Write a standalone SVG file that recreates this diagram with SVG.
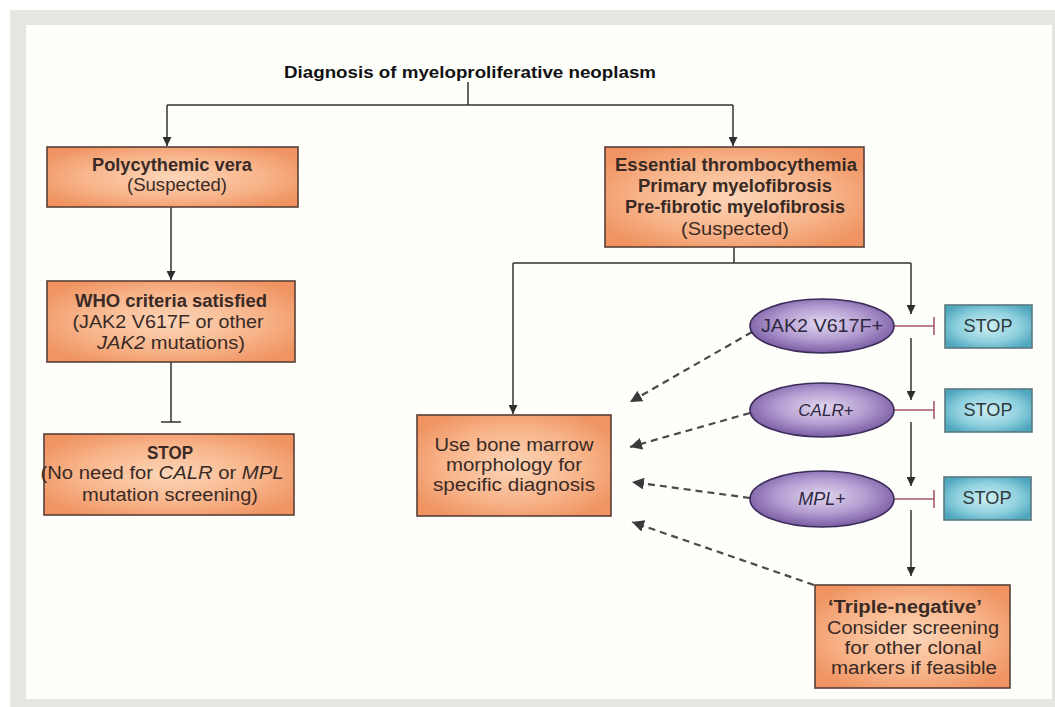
<svg xmlns="http://www.w3.org/2000/svg" width="1055" height="707" viewBox="0 0 1055 707">
<defs>
<radialGradient id="gOr" cx="0.5" cy="0.5" r="0.6">
<stop offset="0" stop-color="#fcd6b8"/>
<stop offset="0.6" stop-color="#f8b48a"/>
<stop offset="1" stop-color="#ef9462"/>
</radialGradient>
<radialGradient id="gPu" cx="0.5" cy="0.45" r="0.55">
<stop offset="0" stop-color="#e2d8ef"/>
<stop offset="0.55" stop-color="#b49ed2"/>
<stop offset="1" stop-color="#7a5ca3"/>
</radialGradient>
<radialGradient id="gBl" cx="0.5" cy="0.5" r="0.6">
<stop offset="0" stop-color="#cdeff4"/>
<stop offset="0.6" stop-color="#8fd0de"/>
<stop offset="1" stop-color="#4ea7bf"/>
</radialGradient>
<marker id="ah" viewBox="0 0 10 10" refX="10" refY="5" markerWidth="9" markerHeight="9" markerUnits="userSpaceOnUse" orient="auto">
<path d="M0,0 L10,5 L0,10 z" fill="#2e2e2e"/>
</marker>
<marker id="ahd" viewBox="0 0 10 10" refX="10" refY="5" markerWidth="12" markerHeight="12" markerUnits="userSpaceOnUse" orient="auto">
<path d="M0,0 L10,5 L0,10 z" fill="#3a3a3a"/>
</marker>
</defs>
<style>
.box{fill:url(#gOr);stroke:#5a3f36;stroke-width:1.6}
.ell{fill:url(#gPu);stroke:#3b2c5a;stroke-width:1.6}
.stop{fill:url(#gBl);stroke:#5d7880;stroke-width:1.6}
text{font-family:"Liberation Sans",Arial,sans-serif;font-size:18px;fill:#3a2a25;text-anchor:middle}
.b{font-weight:bold}
.i{font-style:italic}
.ttl{font-size:16px;font-weight:bold;fill:#111}
.et{fill:#2e2840}
.st{fill:#2f3a3e}
.ln{fill:none;stroke:#333;stroke-width:1.5}
.pk{fill:none;stroke:#a85a68;stroke-width:1.6}
.ds{fill:none;stroke:#4a4a4a;stroke-width:2.2;stroke-dasharray:7 5}
</style>
<rect x="0" y="0" width="1055" height="707" fill="#ffffff"/>
<rect x="10" y="10" width="1045" height="697" fill="#e5e5e1"/>
<rect x="26" y="25" width="1026" height="674" fill="#fefefb"/>

<g id="connectors">
<path class="ln" d="M468,82 V105 M167,105 H733"/>
<path class="ln" d="M167,105 V146" marker-end="url(#ah)"/>
<path class="ln" d="M733,105 V146" marker-end="url(#ah)"/>
<path class="ln" d="M171,207 V280" marker-end="url(#ah)"/>
<path class="ln" d="M171,362 V422 M161,422 H181"/>
<path class="ln" d="M734,247 V263 M513,263 H911"/>
<path class="ln" d="M513,263 V414" marker-end="url(#ah)"/>
<path class="ln" d="M911,263 V314" marker-end="url(#ah)"/>
<path class="ln" d="M911,338 V400" marker-end="url(#ah)"/>
<path class="ln" d="M911,422 V486" marker-end="url(#ah)"/>
<path class="ln" d="M911,510 V576" marker-end="url(#ah)"/>
<path class="pk" d="M894,326 H934 M934,317 V335"/>
<path class="pk" d="M894,410 H934 M934,401 V419"/>
<path class="pk" d="M894,499 H934 M934,490 V508"/>
<path class="ds" d="M752,332 L630,402" marker-end="url(#ahd)"/>
<path class="ds" d="M750,413 L630,447" marker-end="url(#ahd)"/>
<path class="ds" d="M750,498 L632,482" marker-end="url(#ahd)"/>
<path class="ds" d="M814,585 L632,522" marker-end="url(#ahd)"/>
</g>

<g id="title">
<text class="ttl" x="470" y="78" textLength="372" lengthAdjust="spacingAndGlyphs">Diagnosis of myeloproliferative neoplasm</text>
</g>

<g id="pv">
<rect class="box" x="47" y="147" width="251" height="60"/>
<text class="b" x="172" y="171" textLength="160" lengthAdjust="spacingAndGlyphs">Polycythemic vera</text>
<text x="177" y="191" textLength="100" lengthAdjust="spacingAndGlyphs">(Suspected)</text>
</g>

<g id="who">
<rect class="box" x="47" y="281" width="248" height="81"/>
<text class="b" x="171" y="307" textLength="192" lengthAdjust="spacingAndGlyphs">WHO criteria satisfied</text>
<text x="168" y="328" textLength="191" lengthAdjust="spacingAndGlyphs">(JAK2 V617F or other</text>
<text x="171" y="349" textLength="148" lengthAdjust="spacingAndGlyphs"><tspan class="i">JAK2</tspan> mutations)</text>
</g>

<g id="stop-pv">
<rect class="box" x="44" y="434" width="250" height="81"/>
<text class="b" x="170" y="459" textLength="46" lengthAdjust="spacingAndGlyphs">STOP</text>
<text x="162" y="479" textLength="243" lengthAdjust="spacingAndGlyphs">(No need for <tspan class="i">CALR</tspan> or <tspan class="i">MPL</tspan></text>
<text x="170" y="501" textLength="176" lengthAdjust="spacingAndGlyphs">mutation screening)</text>
</g>

<g id="et">
<rect class="box" x="605" y="147" width="259" height="100"/>
<text class="b" x="736" y="171" textLength="242" lengthAdjust="spacingAndGlyphs">Essential thrombocythemia</text>
<text class="b" x="735" y="192" textLength="194" lengthAdjust="spacingAndGlyphs">Primary myelofibrosis</text>
<text class="b" x="735" y="213" textLength="220" lengthAdjust="spacingAndGlyphs">Pre-fibrotic myelofibrosis</text>
<text x="735" y="235" textLength="108" lengthAdjust="spacingAndGlyphs">(Suspected)</text>
</g>

<g id="bm">
<rect class="box" x="417" y="415" width="194" height="101"/>
<text x="514" y="451" textLength="159" lengthAdjust="spacingAndGlyphs">Use bone marrow</text>
<text x="514" y="471" textLength="136" lengthAdjust="spacingAndGlyphs">morphology for</text>
<text x="514" y="491" textLength="162" lengthAdjust="spacingAndGlyphs">specific diagnosis</text>
</g>

<g id="jak2">
<ellipse class="ell" cx="822" cy="326" rx="72" ry="27"/>
<text class="et" x="822" y="332" textLength="122" lengthAdjust="spacingAndGlyphs">JAK2 V617F+</text>
</g>
<g id="calr">
<ellipse class="ell" cx="822" cy="410" rx="72" ry="27"/>
<text class="et" x="826" y="416" style="font-size:17px"><tspan class="i">CALR</tspan>+</text>
</g>
<g id="mpl">
<ellipse class="ell" cx="822" cy="499" rx="72" ry="28"/>
<text class="et" x="822" y="505" style="font-size:18px"><tspan class="i">MPL</tspan>+</text>
</g>

<g id="stop1">
<rect class="stop" x="945" y="305" width="87" height="43"/>
<text class="st" x="988" y="332" textLength="49" lengthAdjust="spacingAndGlyphs">STOP</text>
</g>
<g id="stop2">
<rect class="stop" x="945" y="389" width="87" height="43"/>
<text class="st" x="988" y="416" textLength="49" lengthAdjust="spacingAndGlyphs">STOP</text>
</g>
<g id="stop3">
<rect class="stop" x="944" y="477" width="87" height="43"/>
<text class="st" x="987" y="504" textLength="49" lengthAdjust="spacingAndGlyphs">STOP</text>
</g>

<g id="triple">
<rect class="box" x="815" y="585" width="195" height="103"/>
<text class="b" x="905" y="613" textLength="154" lengthAdjust="spacingAndGlyphs">‘Triple-negative’</text>
<text x="913" y="634" textLength="172" lengthAdjust="spacingAndGlyphs">Consider screening</text>
<text x="913" y="654" textLength="137" lengthAdjust="spacingAndGlyphs">for other clonal</text>
<text x="914" y="674" textLength="166" lengthAdjust="spacingAndGlyphs">markers if feasible</text>
</g>
</svg>
